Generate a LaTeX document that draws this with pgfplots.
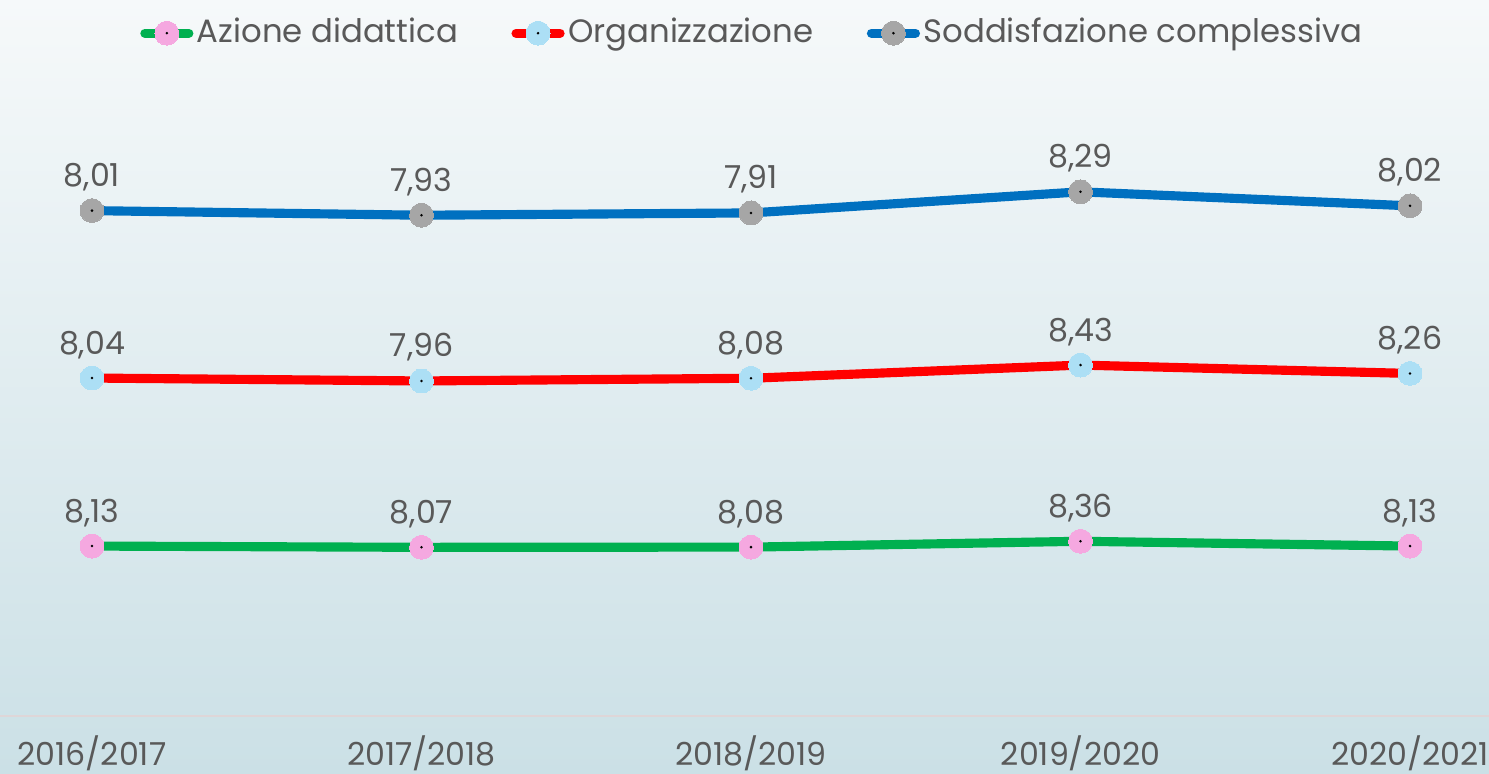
\documentclass[border=0pt]{standalone}
\usepackage{pgfplots}
\pgfplotsset{compat=1.18}
\usepackage{pgfplotstable}
\usepackage{fontspec}
\setmainfont{Poppins}
\definecolor{bgtop}{RGB}{246,249,250}
\definecolor{bgbot}{RGB}{203,224,230}
\definecolor{axgray}{RGB}{222,214,216}
\definecolor{txtgray}{RGB}{89,89,89}
\definecolor{cgreen}{RGB}{0,176,80}
\definecolor{cred}{RGB}{255,0,0}
\definecolor{cblue}{RGB}{0,112,192}
\definecolor{mpink}{RGB}{245,168,224}
\definecolor{mlblue}{RGB}{172,223,245}
\definecolor{mgray}{RGB}{166,166,166}
\pgfdeclareplotmark{dotcircle}{%
  \pgfpathcircle{\pgfpointorigin}{\pgfplotmarksize}%
  \pgfusepathqfillstroke
  \begin{pgfscope}%
  \pgfsetfillcolor{black}%
  \pgfpathcircle{\pgfpointorigin}{0.4pt}%
  \pgfusepathqfill
  \end{pgfscope}%
}
\pgfplotstableread{
x a b c
0 8.13 8.04 8.01
1 8.07 7.96 7.93
2 8.08 8.08 7.91
3 8.36 8.43 8.29
4 8.13 8.26 8.02
}\data
\begin{document}
\begin{tikzpicture}
\shade[top color=bgtop, bottom color=bgbot] (0,0) rectangle (14.89cm,7.74cm);
\begin{axis}[
  at={(0cm,0.58cm)}, anchor=south west,
  scale only axis, width=14.89cm, height=6.27cm,
  xmin=-0.2792, xmax=4.2397, ymin=0, ymax=30,
  axis x line=bottom, axis y line=none,
  x axis line style={draw=axgray, line width=0.8pt, -},
  xtick={0,1,2,3,4},
  xticklabels={2016/2017,2017/2018,2018/2019,2019/2020,2020/2021},
  major tick length=0pt,
  xticklabel style={anchor=base, yshift=-0.50cm, text=txtgray, font=\fontsize{9pt}{10pt}\selectfont},
  ytick=\empty,
  stack plots=y,
  point meta=explicit,
  nodes near coords={\pgfmathprintnumber[fixed,fixed zerofill,precision=2,use comma,assume math mode=true]{\pgfplotspointmeta}},
  every node near coord/.append style={anchor=base, yshift=0.24cm, text=txtgray, font=\fontsize{9pt}{10pt}\selectfont},
  legend columns=-1,
  legend style={at={(0.5057,1.089)}, anchor=center, draw=none, fill=none,
    font=\fontsize{9.2pt}{10pt}\selectfont, text=txtgray,
    /tikz/every even column/.append style={column sep=0.5cm},
    nodes={inner sep=1pt}},
  legend image code/.code={\draw[#1, line cap=round, mark repeat=2, mark phase=2] plot coordinates {(0cm,0cm) (0.22cm,0cm) (0.44cm,0cm)};},
  every axis plot/.append style={line width=2.6pt, mark=dotcircle, mark size=3.4pt},
]
\addplot[cgreen, mark options={fill=mpink, draw=mpink, line width=0pt}] table[x=x, y=a, meta=a] {\data};
\addlegendentry{Azione didattica}
\addplot[cred, mark options={fill=mlblue, draw=mlblue, line width=0pt}] table[x=x, y=b, meta=b] {\data};
\addlegendentry{Organizzazione}
\addplot[cblue, mark options={fill=mgray, draw=mgray, line width=0pt}] table[x=x, y=c, meta=c] {\data};
\addlegendentry{Soddisfazione complessiva}
\end{axis}
\pgfresetboundingbox
\path (0,0) rectangle (14.89cm,7.74cm);
\end{tikzpicture}
\end{document}
